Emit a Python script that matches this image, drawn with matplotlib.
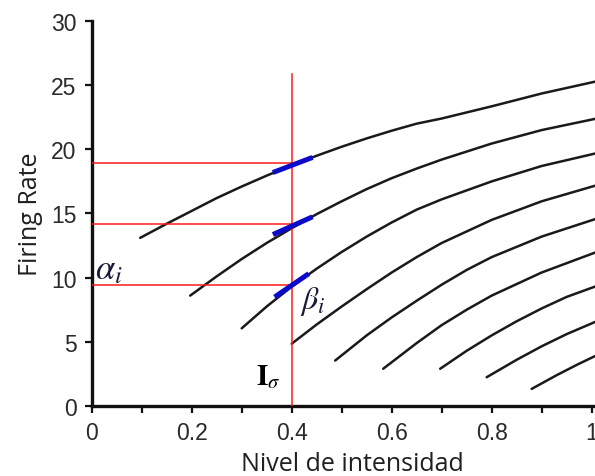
import numpy as np
import matplotlib.pyplot as plt

plt.rcParams['mathtext.fontset'] = 'stix'

# firing rate vs. intensity, one curve per neuron
curve_x = [
    [0.097, 0.15, 0.2, 0.25, 0.3, 0.35, 0.4, 0.45, 0.5, 0.55, 0.6, 0.65, 0.7, 0.8, 0.9, 1.01],
    [0.197, 0.25, 0.3, 0.35, 0.4, 0.45, 0.5, 0.55, 0.6, 0.65, 0.7, 0.8, 0.9, 1.01],
    [0.30, 0.35, 0.4, 0.45, 0.5, 0.55, 0.6, 0.65, 0.7, 0.8, 0.9, 1.01],
    [0.40, 0.45, 0.5, 0.55, 0.6, 0.65, 0.7, 0.8, 0.9, 1.01],
    [0.487, 0.55, 0.6, 0.65, 0.7, 0.75, 0.8, 0.9, 1.01],
    [0.583, 0.65, 0.7, 0.75, 0.8, 0.9, 1.01],
    [0.697, 0.75, 0.8, 0.85, 0.9, 0.95, 1.01],
    [0.79, 0.85, 0.9, 0.95, 1.01],
    [0.88, 0.93, 0.97, 1.01],
]
curve_y = [
    [13.1, 14.2, 15.2, 16.2, 17.1, 17.95, 18.75, 19.5, 20.2, 20.85, 21.45, 22.0, 22.4, 23.35, 24.35, 25.3],
    [8.6, 10.1, 11.45, 12.7, 13.85, 14.95, 15.95, 16.9, 17.75, 18.5, 19.2, 20.45, 21.5, 22.4],
    [6.05, 7.75, 9.3, 10.7, 12.0, 13.2, 14.3, 15.3, 16.1, 17.5, 18.7, 19.7],
    [4.85, 6.35, 7.75, 9.1, 10.4, 11.6, 12.7, 14.5, 15.95, 17.2],
    [3.54, 5.5, 6.9, 8.2, 9.45, 10.6, 11.6, 13.2, 14.6],
    [2.9, 4.9, 6.3, 7.5, 8.6, 10.4, 12.0],
    [2.9, 4.3, 5.5, 6.6, 7.6, 8.5, 9.35],
    [2.24, 3.6, 4.65, 5.6, 6.6],
    [1.33, 2.4, 3.2, 3.95],
]

# highlighted slope pieces around I0
blue_x = [[0.367, 0.437], [0.367, 0.437], [0.37, 0.43]]
blue_y = [[18.26, 19.3], [13.44, 14.66], [8.6, 10.2]]

i0 = 0.4
alpha_levels = [18.9, 14.2, 9.4]
i0_top = 25.9

xticks = [0, 0.1, 0.2, 0.3, 0.4, 0.5, 0.6, 0.7, 0.8, 0.9, 1.0]
xticklabels = ['0', '', '0.2', '', '0.4', '', '0.6', '', '0.8', '', '1']
yticks = [0, 5, 10, 15, 20, 25, 30]

fig = plt.figure(figsize=(5.95, 4.77), dpi=100)
ax = fig.add_axes([0.1541, 0.1468, 0.8487, 0.8071])

for xs, ys in zip(curve_x, curve_y):
    ax.plot(xs, ys, color='#1a1a1a', lw=1.8, solid_capstyle='round',
            solid_joinstyle='round', zorder=2)

for lev in alpha_levels:
    ax.plot([0, i0], [lev, lev], color='#ff1a1a', lw=1.1, zorder=3)
ax.plot([i0, i0], [0, i0_top], color='#ff1a1a', lw=1.1, zorder=3)

for xs, ys in zip(blue_x, blue_y):
    ax.plot(xs, ys, color='#0a0ac8', lw=3.6, zorder=4)

ax.text(0.007, 10.7, r'$\alpha_i$', fontsize=25, color='#1a1a3a',
        ha='left', va='center')
ax.text(0.416, 8.2, r'$\beta_i$', fontsize=23, color='#1a1a3a',
        ha='left', va='center')
ax.text(0.328, 1.72, r'$\mathbf{I}_{\sigma}$', fontsize=21, color='black',
        ha='left', va='baseline')

ax.set_xlim(0, 1.01)
ax.set_ylim(0, 30)
ax.set_xticks(xticks)
ax.set_xticklabels(xticklabels)
ax.set_yticks(yticks)

for side in ['top', 'right']:
    ax.spines[side].set_visible(False)
for side in ['left', 'bottom']:
    ax.spines[side].set_linewidth(2.4)
    ax.spines[side].set_color('#111111')

ax.tick_params(direction='out', length=5, width=1.6, pad=6,
               labelsize=16.5, colors='#111111', labelcolor='#2a2a2a')
for lab in ax.get_xticklabels() + ax.get_yticklabels():
    lab.set_family('Liberation Sans')

ax.set_xlabel('Nivel de intensidad', family='Open Sans', fontsize=18,
              color='#202020', va='center')
ax.set_ylabel('Firing Rate', family='Open Sans', fontsize=18,
              color='#202020', va='center')
ax.xaxis.set_label_coords(0.517, -0.1495)
ax.yaxis.set_label_coords(-0.122, 0.5)

fig.savefig('out.png', dpi=100)
